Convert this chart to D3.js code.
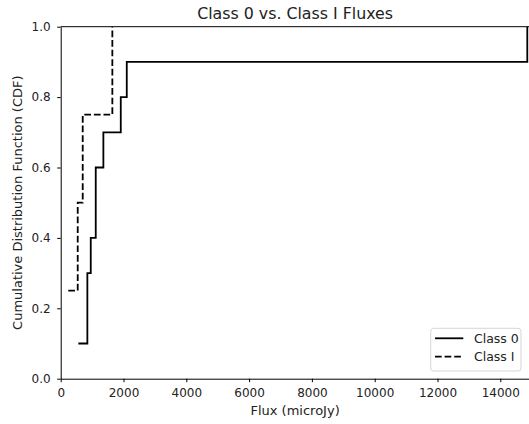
<!DOCTYPE html>
<html>
<head>
<meta charset="utf-8">
<script src="https://cdn.jsdelivr.net/npm/d3@7/dist/d3.min.js"></script>
<style>
  html, body { margin: 0; padding: 0; background: #fff; }
  svg { display: block; font-family: "DejaVu Sans", sans-serif; }
</style>
</head>
<body>
<svg id="chart" width="529" height="424"></svg>
<script>
// Sorted fluxes (microJy) and their empirical CDF levels
const class0Flux = [562, 849, 849, 957, 1116, 1116, 1359, 1913, 2104, 14860];
const class0Cdf  = [0.1, 0.2, 0.3, 0.4, 0.5, 0.6, 0.7, 0.8, 0.9, 1.0];
const class1Flux = [242, 542, 701, 1645];
const class1Cdf  = [0.25, 0.5, 0.75, 1.0];

const xTicks = [0, 2000, 4000, 6000, 8000, 10000, 12000, 14000];
const yTicks = [0.0, 0.2, 0.4, 0.6, 0.8, 1.0];
const seriesNames = ["Class 0", "Class I"];

const svg = d3.select("#chart");
const plotL = 60.7, plotR = 529.5, plotT = 26.7, plotB = 378.7;

const x = d3.scaleLinear().domain([0, 14930]).range([plotL, plotR]);
const y = d3.scaleLinear().domain([0, 1]).range([plotB, plotT]);

// Axes
const xAxis = svg.append("g")
  .attr("transform", `translate(0,${plotB})`)
  .call(d3.axisBottom(x).tickValues(xTicks).tickFormat(d3.format("d"))
        .tickSize(3.5).tickSizeOuter(0).tickPadding(6));
const yAxis = svg.append("g")
  .attr("transform", `translate(${plotL},0)`)
  .call(d3.axisLeft(y).tickValues(yTicks).tickFormat(d3.format(".1f"))
        .tickSize(3.5).tickSizeOuter(0).tickPadding(6.5));
[xAxis, yAxis].forEach(g => {
  g.selectAll("text").attr("font-size", 12).attr("fill", "#222")
   .attr("font-family", "DejaVu Sans, sans-serif");
  g.selectAll("line").attr("stroke", "#000").attr("stroke-width", 1);
  g.select(".domain").attr("stroke", "#000").attr("stroke-width", 1);
});

// Top frame line
svg.append("line")
  .attr("x1", plotL).attr("x2", plotR)
  .attr("y1", plotT).attr("y2", plotT)
  .attr("stroke", "#000").attr("stroke-width", 1);

// Step CDF curves
const stepLine = d3.line()
  .x(d => x(d[0])).y(d => y(d[1]))
  .curve(d3.curveStepAfter);

svg.append("path")
  .datum(d3.zip(class0Flux, class0Cdf))
  .attr("d", stepLine)
  .attr("fill", "none").attr("stroke", "#000").attr("stroke-width", 1.8);

svg.append("path")
  .datum(d3.zip(class1Flux, class1Cdf))
  .attr("d", stepLine)
  .attr("fill", "none").attr("stroke", "#000").attr("stroke-width", 1.8)
  .attr("stroke-dasharray", "6.7,2.9");

// Title and axis labels
svg.append("text")
  .attr("x", (plotL + plotR) / 2).attr("y", 18.5)
  .attr("text-anchor", "middle").attr("font-size", 15.8).attr("fill", "#222")
  .text("Class 0 vs. Class I Fluxes");

svg.append("text")
  .attr("x", (plotL + plotR) / 2).attr("y", 414.5)
  .attr("text-anchor", "middle").attr("font-size", 13).attr("fill", "#222")
  .text("Flux (microJy)");

svg.append("text")
  .attr("transform", `translate(22,${(plotT + plotB) / 2}) rotate(-90)`)
  .attr("text-anchor", "middle").attr("font-size", 13).attr("fill", "#222")
  .text("Cumulative Distribution Function (CDF)");

// Legend
const lg = svg.append("g");
lg.append("rect")
  .attr("x", 430.7).attr("y", 328.3).attr("width", 90.3).attr("height", 42.7)
  .attr("rx", 3).attr("fill", "#fff").attr("fill-opacity", 0.8)
  .attr("stroke", "#d6d6d6").attr("stroke-width", 1);
seriesNames.forEach((name, i) => {
  const yy = 338.3 + i * 18.4;
  lg.append("line")
    .attr("x1", 435).attr("x2", 463.3).attr("y1", yy).attr("y2", yy)
    .attr("stroke", "#000").attr("stroke-width", 1.8)
    .attr("stroke-dasharray", i === 1 ? "6.7,2.9" : null);
  lg.append("text")
    .attr("x", 474).attr("y", yy + 4.6)
    .attr("font-size", 12.5).attr("fill", "#222")
    .text(name);
});
</script>
</body>
</html>
